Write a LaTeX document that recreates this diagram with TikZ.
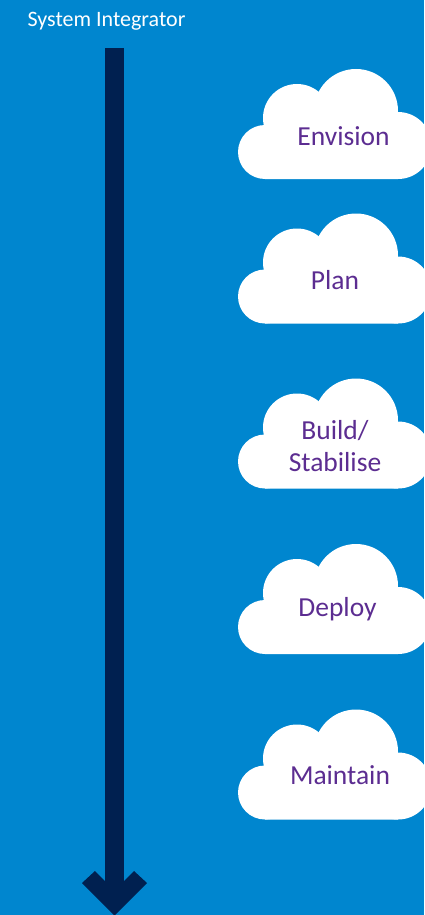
\documentclass[tikz,border=0pt]{standalone}
\usepackage{fontspec}
\setmainfont{Carlito}
\definecolor{bgblue}{HTML}{0086CF}
\definecolor{navy}{HTML}{002050}
\definecolor{cloudtext}{HTML}{5C2D91}
\tikzset{
  cloudshape/.pic={
    \fill[white] (265,152) circle[radius=27pt];
    \fill[white] (297,118) circle[radius=34pt];
    \fill[white] (356,111) circle[radius=42pt];
    \fill[white] (398,145.5) circle[radius=33.5pt];
    \fill[white] (265,179) -- (265,152) -- (297,118) -- (356,111) -- (398,145.5) -- (398,179) -- cycle;
  },
  cloudlabel/.style={text=cloudtext,font=\fontsize{27.5}{32}\selectfont,align=center,inner sep=0pt},
  titlelabel/.style={text=white,font=\fontsize{22}{24}\selectfont,inner sep=0pt},
  shaft/.style={draw=navy,line width=19pt}
}
\begin{document}
\begin{tikzpicture}[x=1pt,y=-1pt]
\useasboundingbox (0,0) rectangle (424,915);
\clip (0,0) rectangle (424,915);
\fill[bgblue] (0,0) rectangle (424,915);
\node[titlelabel] (title) at (106.5,21) {System Integrator};
\coordinate (arrowtop) at (114.5,48);
\coordinate (arrowneck) at (114.5,895);
\draw[shaft] (arrowtop) -- (arrowneck);
\fill[navy] (105,881) -- (95,871) -- (82,883) -- (114.5,915.5) -- (147,883) -- (134,871) -- (124,881) -- cycle;
\pic at (0,0) {cloudshape};
\pic at (0,144.5) {cloudshape};
\pic at (0,309.5) {cloudshape};
\pic at (0,475) {cloudshape};
\pic at (0,640.5) {cloudshape};
\node[cloudlabel] (envision) at (343.5,136) {Envision};
\node[cloudlabel] (plan) at (335,280) {Plan};
\node[cloudlabel] (build) at (335,446) {Build/\\Stabilise};
\node[cloudlabel] (deploy) at (337.5,609) {Deploy};
\node[cloudlabel] (maintain) at (340,775) {Maintain};
\end{tikzpicture}
\end{document}
